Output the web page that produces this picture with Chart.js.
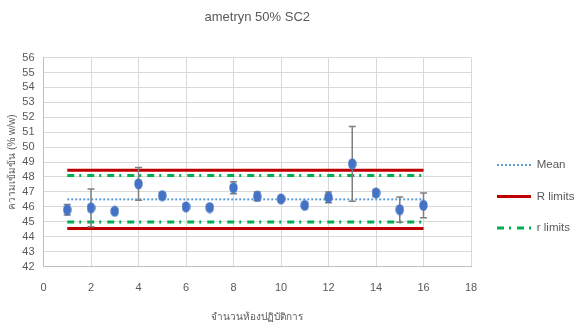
<!DOCTYPE html>
<html>
<head>
<meta charset="utf-8">
<script src="https://cdn.jsdelivr.net/npm/chart.js@4/dist/chart.umd.min.js"></script>
<style>
  html, body { margin: 0; padding: 0; background: #ffffff; }
  #wrap { width: 577px; height: 329px; position: relative; }
</style>
</head>
<body>
<div id="wrap"><canvas id="c" width="577" height="329"></canvas></div>
<script>
// ---- data ----
const labNumbers = [1, 2, 3, 4, 5, 6, 7, 8, 9, 10, 11, 12, 13, 14, 15, 16];
const concentrations = [45.8, 45.93, 45.7, 47.54, 46.75, 46.0, 45.95, 47.28, 46.7, 46.53, 46.1, 46.64, 48.88, 46.93, 45.81, 46.1];
const errorValues = [0.35, 1.27, 0.15, 1.1, 0.2, 0.15, 0.15, 0.4, 0.3, 0.15, 0.15, 0.36, 2.5, 0.2, 0.85, 0.83];
const lineSpan = [1, 16];
const meanValue = 46.5;
const bigRLimits = [48.45, 44.55];
const smallRLimits = [48.1, 44.98];
const xTicks = [0, 2, 4, 6, 8, 10, 12, 14, 16, 18];
const yRange = [42, 56];

const FONT = "'Liberation Sans Narrow', 'Liberation Sans', Arial, sans-serif";
Chart.defaults.font.family = FONT;
Chart.defaults.color = '#595959';

// ellipse marker
const marker = document.createElement('canvas');
marker.width = 9; marker.height = 12;
(function(){
  const g = marker.getContext('2d');
  g.fillStyle = '#4472C4';
  g.beginPath();
  g.ellipse(4.5, 6, 4.2, 5.6, 0, 0, Math.PI * 2);
  g.fill();
})();

function hLine(v) { return lineSpan.map(x => ({ x: x, y: v })); }

const POINTS_INDEX = 5;

const errorBarPlugin = {
  id: 'errorBars',
  beforeDatasetDraw(chart, args) {
    if (args.index !== POINTS_INDEX) return;
    const xs = chart.scales.x, ys = chart.scales.y, ctx = chart.ctx;
    ctx.save();
    ctx.strokeStyle = '#7f7f7f';
    ctx.lineWidth = 1.5;
    labNumbers.forEach((lab, i) => {
      const e = errorValues[i];
      const px = xs.getPixelForValue(lab);
      const top = ys.getPixelForValue(concentrations[i] + e);
      const bot = ys.getPixelForValue(concentrations[i] - e);
      ctx.beginPath();
      ctx.moveTo(px, top); ctx.lineTo(px, bot);
      ctx.moveTo(px - 3.5, top); ctx.lineTo(px + 3.5, top);
      ctx.moveTo(px - 3.5, bot); ctx.lineTo(px + 3.5, bot);
      ctx.stroke();
    });
    ctx.restore();
  }
};

const legendShift = {
  id: 'legendShift',
  afterLayout(chart) {
    if (chart.legend) { chart.legend.left += 6; }
  }
};

new Chart(document.getElementById('c'), {
  type: 'scatter',
  data: {
    datasets: [
      { label: 'Mean', data: hLine(meanValue), showLine: true, borderColor: '#5B9BD5', backgroundColor: '#5B9BD5',
        borderWidth: 2, borderDash: [2, 2], pointRadius: 0, order: 2 },
      { label: 'R limits', data: hLine(bigRLimits[0]), showLine: true, borderColor: '#C00000', backgroundColor: '#C00000',
        borderWidth: 3, pointRadius: 0, order: 2 },
      { label: '', data: hLine(bigRLimits[1]), showLine: true, borderColor: '#C00000', backgroundColor: '#C00000',
        borderWidth: 3, pointRadius: 0, order: 2 },
      { label: 'r limits', data: hLine(smallRLimits[0]), showLine: true, borderColor: '#00B050', backgroundColor: '#00B050',
        borderWidth: 3, borderDash: [7, 5, 2, 6], pointRadius: 0, order: 2 },
      { label: '', data: hLine(smallRLimits[1]), showLine: true, borderColor: '#00B050', backgroundColor: '#00B050',
        borderWidth: 3, borderDash: [7, 5, 2, 6], pointRadius: 0, order: 2 },
      { label: 'data', data: labNumbers.map((x, i) => ({ x: x, y: concentrations[i] })), showLine: false,
        pointStyle: marker, pointRadius: 5, pointHoverRadius: 5, backgroundColor: '#4472C4', borderColor: '#4472C4', order: 1 }
    ]
  },
  options: {
    responsive: false,
    animation: false,
    events: [],
    layout: { padding: { left: 0, right: 0, top: 0, bottom: 0 } },
    scales: {
      x: {
        type: 'linear', min: 0, max: 18,
        afterBuildTicks(scale) { scale.ticks = xTicks.map(v => ({ value: v })); },
        afterFit(scale) { scale.height = 62.5; },
        grid: { color: '#d9d9d9', drawTicks: false, lineWidth: 1 },
        border: { color: '#bfbfbf', width: 1 },
        ticks: { font: { size: 11 }, color: '#595959', padding: 15, maxRotation: 0, autoSkip: false },
        title: { display: true, text: 'จำนวนห้องปฏิบัติการ', font: { size: 10 }, color: '#595959',
                 padding: { top: 0, bottom: 6 } }
      },
      y: {
        min: yRange[0], max: yRange[1],
        afterFit(scale) { scale.width = 43.5; },
        ticks: { stepSize: 1, font: { size: 11 }, color: '#595959', padding: 9, autoSkip: false },
        grid: { color: '#d9d9d9', drawTicks: false, lineWidth: 1 },
        border: { color: '#bfbfbf', width: 1 },
        title: { display: true, text: 'ความเข้มข้น (% w/w)', font: { size: 10 }, color: '#595959',
                 padding: { top: 6, bottom: 0 } }
      }
    },
    plugins: {
      title: { display: true, text: 'ametryn 50% SC2', fullSize: false, color: '#595959',
               font: { size: 13, weight: 'normal' }, padding: { top: 10, bottom: 32 } },
      legend: {
        position: 'right', align: 'center', fullSize: false, maxWidth: 106,
        title: { display: true, text: '', font: { size: 10 }, padding: { top: 57, bottom: 0 } },
        labels: {
          usePointStyle: true, pointStyle: 'line', pointStyleWidth: 34,
          padding: 20, font: { size: 11.5 }, color: '#595959',
          generateLabels(chart) {
            const items = Chart.defaults.plugins.legend.labels.generateLabels(chart);
            return items.map(it => {
              const ds = chart.data.datasets[it.datasetIndex];
              it.lineDash = ds.borderDash || [];
              it.lineWidth = ds.borderWidth;
              it.strokeStyle = ds.borderColor;
              it.fillStyle = ds.borderColor;
              it.pointStyle = 'line';
              return it;
            });
          },
          filter: (item) => item.text === 'Mean' || item.text === 'R limits' || item.text === 'r limits'
        }
      },
      tooltip: { enabled: false }
    }
  },
  plugins: [errorBarPlugin, legendShift]
});
</script>
</body>
</html>
